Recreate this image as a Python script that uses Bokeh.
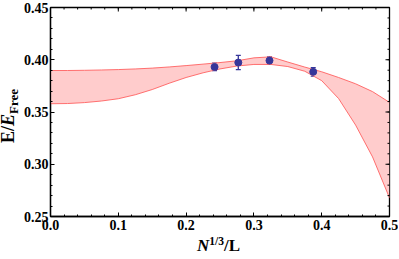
import math
from bokeh.plotting import figure
from bokeh.layouts import row, column
from bokeh.models import (Range1d, Whisker, TeeHead, FixedTicker, Div,
                          ColumnDataSource, NumeralTickFormatter)
from bokeh.embed import file_html
from bokeh.resources import INLINE

# ---- data ----
band_x = [0.000, 0.025, 0.050, 0.075, 0.100, 0.125, 0.150, 0.175, 0.200, 0.225,
          0.250, 0.275, 0.300, 0.325, 0.350, 0.375, 0.400, 0.425, 0.450, 0.475, 0.500]
band_upper = [0.3897, 0.3897, 0.3899, 0.3902, 0.3906, 0.3912, 0.3920, 0.3931, 0.3944, 0.3958,
              0.3973, 0.3990, 0.4018, 0.4028, 0.3978, 0.3930, 0.3885, 0.3830, 0.3770, 0.3695, 0.3592]
band_lower = [0.3579, 0.3581, 0.3590, 0.3605, 0.3627, 0.3665, 0.3715, 0.3775, 0.3830, 0.3875,
              0.3912, 0.3940, 0.3955, 0.3955, 0.3935, 0.3890, 0.3800, 0.3628, 0.3375, 0.3070, 0.2678]

pts_x = [0.242, 0.277, 0.323, 0.3875]
pts_y = [0.3931, 0.3973, 0.3992, 0.3884]
pts_err = [0.0036, 0.0068, 0.0036, 0.0041]

x_range = (0.0, 0.5)
y_range = (0.25, 0.45)
x_major_ticks = [0.0, 0.1, 0.2, 0.3, 0.4, 0.5]
y_major_ticks = [0.25, 0.30, 0.35, 0.40, 0.45]
x_minor_ticks = [round(0.02 * i, 2) for i in range(26)]
y_minor_ticks = [round(0.25 + 0.01 * i, 2) for i in range(21)]

# axis titles: N^{1/3}/L  and  E/E_Free
x_title_parts = ["N", "1/3", "/L"]
y_title_parts = ["E/", "E", "Free"]

BAND_FILL = "#ffcccc"
BAND_EDGE = "#ff6161"
PT_COLOR = "#36369a"
FONT = "Liberation Serif"

# ---- layout (pixels) ----
TOTAL_W, TOTAL_H = 398, 258
LS = 19            # strip holding the y title
HB = 22            # strip holding the x title
WM, HM = TOTAL_W - LS, TOTAL_H - HB
BL, BR, BT, BB = 31, 9, 7, 20
FW, FH = WM - BL - BR, HM - BT - BB

p = figure(width=WM, height=HM, x_range=Range1d(*x_range), y_range=Range1d(*y_range),
           output_backend="svg", toolbar_location=None,
           min_border_left=BL, min_border_right=BR, min_border_top=BT, min_border_bottom=BB)
p.grid.visible = False
p.outline_line_color = "black"
p.outline_line_width = 1.3
p.background_fill_color = "white"
p.border_fill_color = "white"

for ax, majors, minors, fmt, standoff in (
        (p.xaxis[0], x_major_ticks, x_minor_ticks, "0.0", 3),
        (p.yaxis[0], y_major_ticks, y_minor_ticks, "0.00", 2)):
    ax.ticker = FixedTicker(ticks=majors, minor_ticks=minors)
    ax.formatter = NumeralTickFormatter(format=fmt)
    ax.axis_line_color = "black"
    ax.axis_line_width = 1.3
    ax.major_tick_in = 4
    ax.major_tick_out = 0
    ax.minor_tick_in = 2
    ax.minor_tick_out = 0
    ax.major_tick_line_color = "black"
    ax.minor_tick_line_color = "black"
    ax.major_label_text_font = FONT
    ax.major_label_text_font_style = "bold"
    ax.major_label_text_font_size = "14px"
    ax.major_label_text_color = "black"
    ax.major_label_standoff = standoff

# band
p.varea(x=band_x, y1=band_lower, y2=band_upper, fill_color=BAND_FILL, fill_alpha=1.0)
p.line(band_x, band_upper, line_color=BAND_EDGE, line_width=0.9)
p.line(band_x, band_lower, line_color=BAND_EDGE, line_width=0.9)

# mirrored ticks on the top and right frame edges (dash markers clipped by the frame)
p.scatter(x_major_ticks, [y_range[1]] * len(x_major_ticks), marker="dash", angle=math.pi / 2,
          size=8, line_color="black", line_width=1)
p.scatter(x_minor_ticks, [y_range[1]] * len(x_minor_ticks), marker="dash", angle=math.pi / 2,
          size=4, line_color="black", line_width=1)
p.scatter([x_range[1]] * len(y_major_ticks), y_major_ticks, marker="dash",
          size=8, line_color="black", line_width=1)
p.scatter([x_range[1]] * len(y_minor_ticks), y_minor_ticks, marker="dash",
          size=4, line_color="black", line_width=1)

# points with error bars
src = ColumnDataSource(dict(x=pts_x, y=pts_y,
                            lo=[y - e for y, e in zip(pts_y, pts_err)],
                            hi=[y + e for y, e in zip(pts_y, pts_err)]))
wh = Whisker(base="x", upper="hi", lower="lo", source=src, line_color=PT_COLOR, line_width=1.3,
             upper_head=TeeHead(size=5, line_color=PT_COLOR, line_width=1.3),
             lower_head=TeeHead(size=5, line_color=PT_COLOR, line_width=1.3))
p.add_layout(wh)
p.scatter("x", "y", source=src, size=7, fill_color=PT_COLOR, line_color=PT_COLOR)

FONT_CSS = "font-family:'Liberation Serif',serif;font-weight:bold;color:#000;white-space:nowrap;"

# y title (left strip): rotated rich text E/E_Free
ycy = BT + FH / 2 + 4
y_html = (
    f'<div style="position:relative;width:{LS}px;height:{HM}px;">'
    f'<div style="position:absolute;left:8px;top:{ycy}px;'
    f'transform:translate(-50%,-50%) rotate(-90deg);{FONT_CSS}font-size:18px;line-height:18px;">'
    f'{y_title_parts[0]}<i>{y_title_parts[1]}</i>'
    f'<span style="font-size:13px;line-height:0;position:relative;top:4px;">{y_title_parts[2]}</span>'
    f'</div></div>')
ydiv = Div(text=y_html, width=LS, height=HM, margin=0)

# x title (bottom strip): rich text N^{1/3}/L, centred under the frame
xcx = LS + BL + FW / 2 - 1
x_html = (
    f'<div style="position:relative;width:{TOTAL_W}px;height:{HB}px;">'
    f'<div style="position:absolute;left:{xcx}px;top:1px;transform:translateX(-50%);'
    f'{FONT_CSS}font-size:17px;line-height:17px;">'
    f'<i>{x_title_parts[0]}</i>'
    f'<span style="font-size:11.5px;line-height:0;position:relative;top:-6px;">{x_title_parts[1]}</span>'
    f'{x_title_parts[2]}</div></div>')
xdiv = Div(text=x_html, width=TOTAL_W, height=HB, margin=0)

lay = column(row(ydiv, p), xdiv)

open("out.html", "w").write(file_html(lay, INLINE))
